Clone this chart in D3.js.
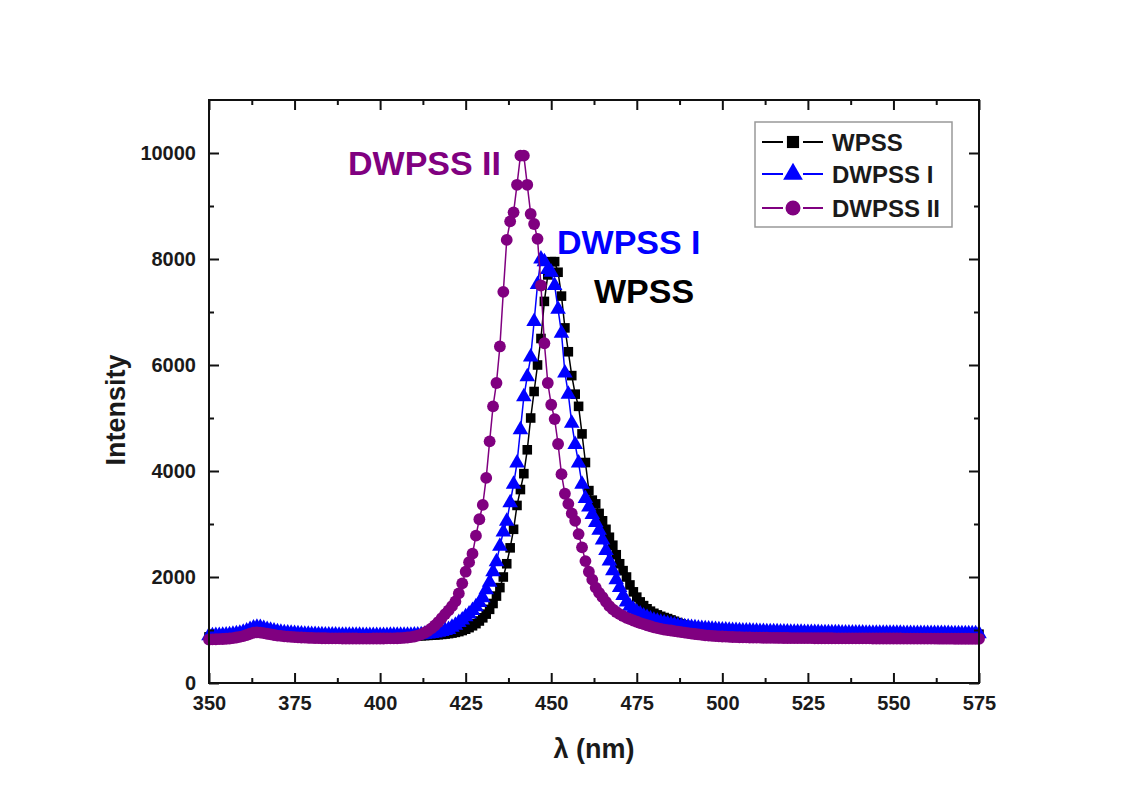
<!DOCTYPE html>
<html>
<head>
<meta charset="utf-8">
<script src="https://cdn.jsdelivr.net/npm/d3@7"></script>
<style>
  html, body { margin: 0; padding: 0; background: #fff; }
  svg { display: block; font-family: "Liberation Sans", Arial, sans-serif; }
  .tick text { font-weight: bold; font-size: 20px; fill: #1a1a1a; }
</style>
</head>
<body>
<svg id="chart" width="1133" height="812"></svg>
<script>
// Emission spectra, sampled every 1 nm from 350 to 575 nm
const wavelengths = d3.range(350, 576, 1);

const wpss = [
  870, 872, 874, 877, 880, 884, 889, 896, 905, 916,
  930, 950, 975, 1000, 1010, 1005, 992, 975, 962, 950,
  940, 932, 925, 920, 915, 911, 907, 904, 901, 899,
  897, 895, 893, 892, 890, 889, 888, 887, 886, 885,
  885, 884, 884, 883, 883, 883, 882, 882, 882, 882,
  882, 882, 882, 883, 883, 884, 884, 885, 886, 887,
  888, 890, 892, 895, 898, 902, 906, 911, 917, 924,
  932, 942, 955, 970, 990, 1015, 1045, 1080, 1120, 1170,
  1230, 1300, 1390, 1500, 1640, 1800, 2000, 2250, 2550, 2900,
  3350, 3650, 3950, 4400, 5000, 5500, 6000, 6500, 7200, 7700,
  7950, 7950, 7750, 7300, 6700, 6250, 5800, 5450, 5220, 4700,
  4160, 3630, 3450, 3380, 3200, 3060, 2900, 2750, 2600, 2420,
  2250, 2120, 2000, 1850, 1720, 1620, 1530, 1460, 1400, 1355,
  1315, 1285, 1258, 1235, 1215, 1190, 1165, 1140, 1115, 1095,
  1075, 1062, 1050, 1040, 1030, 1022, 1015, 1008, 1002, 997,
  994, 990, 987, 984, 981, 978, 975, 973, 971, 969,
  967, 965, 963, 961, 960, 958, 957, 955, 954, 953,
  952, 950, 949, 948, 947, 946, 945, 944, 943, 942,
  941, 940, 940, 939, 938, 937, 937, 936, 935, 935,
  934, 934, 933, 933, 932, 932, 931, 931, 930, 930,
  929, 929, 929, 928, 928, 927, 927, 927, 926, 926,
  926, 925, 925, 925, 924, 924, 924, 923, 923, 923,
  922, 922, 922, 922, 921, 921
];

const dwpss1 = [
  890, 892, 895, 898, 900, 905, 910, 918, 928, 940,
  958, 980, 1010, 1040, 1050, 1045, 1030, 1010, 995, 980,
  968, 958, 950, 944, 938, 933, 929, 925, 922, 919,
  916, 914, 912, 910, 908, 906, 905, 904, 903, 902,
  901, 900, 900, 899, 899, 898, 898, 898, 898, 898,
  898, 898, 898, 899, 899, 900, 900, 901, 902, 903,
  905, 908, 912, 918, 925, 934, 945, 958, 973, 990,
  1010, 1050, 1090, 1140, 1190, 1250, 1300, 1370, 1440, 1520,
  1610, 1760, 1900, 2100, 2290, 2580, 2850, 3050, 3400, 3750,
  4150, 4780, 5400, 5780, 6150, 6820, 7520, 8000, 7950, 7800,
  7750, 7500, 7050, 6600, 5850, 5450, 4900, 4500, 4150, 3750,
  3480, 3320, 3180, 3030, 2880, 2700, 2500, 2300, 2120, 1950,
  1800, 1650, 1530, 1450, 1390, 1340, 1300, 1265, 1235, 1210,
  1185, 1165, 1148, 1132, 1118, 1105, 1093, 1082, 1072, 1063,
  1055, 1048, 1041, 1035, 1029, 1024, 1019, 1014, 1010, 1006,
  1002, 998, 995, 992, 989, 986, 983, 981, 979, 977,
  975, 973, 971, 969, 968, 966, 965, 963, 962, 961,
  960, 958, 957, 956, 955, 954, 953, 952, 951, 950,
  949, 948, 948, 947, 946, 945, 945, 944, 943, 943,
  942, 942, 941, 941, 940, 940, 939, 939, 938, 938,
  937, 937, 937, 936, 936, 935, 935, 935, 934, 934,
  934, 933, 933, 933, 932, 932, 932, 931, 931, 931,
  930, 930, 930, 930, 929, 929
];

const dwpss2 = [
  820, 822, 825, 828, 830, 835, 840, 848, 858, 870,
  885, 905, 930, 950, 955, 950, 940, 930, 918, 905,
  895, 888, 880, 875, 870, 866, 862, 858, 855, 852,
  850, 848, 846, 845, 844, 843, 842, 842, 841, 840,
  840, 840, 839, 839, 838, 838, 838, 838, 839, 839,
  840, 840, 841, 842, 843, 845, 848, 852, 858, 866,
  878, 895, 918, 948, 985, 1030, 1085, 1150, 1225, 1300,
  1370, 1450, 1540, 1690, 1880, 2100, 2280, 2440, 2780, 3090,
  3360, 3870, 4560, 5220, 5660, 6350, 7380, 8360, 8710, 8880,
  9400, 9950, 9950, 9400, 8850, 8660, 8380, 7500, 6410, 5660,
  5250, 4980, 4510, 3940, 3570, 3380, 3200, 3060, 2810, 2560,
  2300, 2100, 1950, 1800, 1700, 1620, 1530, 1450, 1390, 1340,
  1300, 1265, 1230, 1205, 1180, 1155, 1130, 1110, 1090, 1070,
  1050, 1035, 1020, 1008, 998, 990, 980, 970, 960, 950,
  940, 932, 924, 916, 908, 900, 895, 890, 885, 880,
  877, 874, 871, 868, 866, 864, 862, 860, 858, 857,
  856, 855, 854, 853, 852, 851, 850, 850, 849, 849,
  848, 848, 847, 847, 846, 846, 846, 845, 845, 845,
  844, 844, 844, 843, 843, 843, 842, 842, 842, 842,
  841, 841, 841, 841, 840, 840, 840, 840, 840, 839,
  839, 839, 839, 838, 838, 838, 838, 838, 837, 837,
  837, 837, 837, 836, 836, 836, 836, 836, 835, 835,
  835, 835, 835, 834, 834, 834
];

const seriesNames = ["WPSS", "DWPSS I", "DWPSS II"];
const seriesColors = ["#000000", "#0000ff", "#800080"];
const seriesSymbols = [d3.symbolSquare, d3.symbolTriangle, d3.symbolCircle];
const seriesSizes = [92, 105, 110];

const xTicks = [350, 375, 400, 425, 450, 475, 500, 525, 550, 575];
const yTicks = [0, 2000, 4000, 6000, 8000, 10000];
const xMinorTicks = [362.5, 387.5, 412.5, 437.5, 462.5, 487.5, 512.5, 537.5, 562.5];
const yMinorTicks = [1000, 3000, 5000, 7000, 9000];

// Peak annotations
const peakLabels = [
  { text: "DWPSS II", color: "#800080", x: 348, y: 175 },
  { text: "DWPSS I", color: "#0000ff", x: 557, y: 254 },
  { text: "WPSS", color: "#000000", x: 594, y: 303 }
];

const svg = d3.select("#chart");
const plotLeft = 209, plotRight = 979, plotTop = 100, plotBottom = 683;

const x = d3.scaleLinear().domain([350, 575]).range([plotLeft, plotRight]);
const y = d3.scaleLinear().domain([0, 11000]).range([plotBottom, plotTop]);

svg.append("rect").attr("width", 1133).attr("height", 812).attr("fill", "#fff");

// Series: connecting line then markers, drawn WPSS first so DWPSS II ends on top
const seriesData = [wpss, dwpss1, dwpss2];
const line = d3.line().x(d => x(d[0])).y(d => y(d[1]));

seriesData.forEach((vals, i) => {
  const pts = wavelengths.map((w, j) => [w, vals[j]]);
  const g = svg.append("g");
  g.append("path")
    .attr("d", line(pts))
    .attr("fill", "none")
    .attr("stroke", seriesColors[i])
    .attr("stroke-width", 1.5);
  g.selectAll("path.m")
    .data(pts)
    .join("path")
    .attr("class", "m")
    .attr("transform", d => `translate(${x(d[0])},${y(d[1])})`)
    .attr("d", d3.symbol().type(seriesSymbols[i]).size(seriesSizes[i]))
    .attr("fill", seriesColors[i]);
});

// Axes with inward ticks on all four sides
const axisStroke = g => {
  g.select(".domain").remove();
  g.selectAll(".tick line").attr("stroke", "#111").attr("stroke-width", 2);
};

svg.append("g").attr("transform", `translate(0,${plotBottom})`)
  .call(d3.axisBottom(x).tickValues(xTicks).tickSize(-10).tickPadding(13).tickFormat(d3.format("d")))
  .call(axisStroke);
svg.append("g").attr("transform", `translate(0,${plotBottom})`)
  .call(d3.axisBottom(x).tickValues(xMinorTicks).tickSize(-5).tickFormat(""))
  .call(axisStroke);
svg.append("g").attr("transform", `translate(0,${plotTop})`)
  .call(d3.axisTop(x).tickValues(xTicks).tickSize(-10).tickFormat(""))
  .call(axisStroke);
svg.append("g").attr("transform", `translate(0,${plotTop})`)
  .call(d3.axisTop(x).tickValues(xMinorTicks).tickSize(-5).tickFormat(""))
  .call(axisStroke);

svg.append("g").attr("transform", `translate(${plotLeft},0)`)
  .call(d3.axisLeft(y).tickValues(yTicks).tickSize(-10).tickPadding(13).tickFormat(d3.format("d")))
  .call(axisStroke);
svg.append("g").attr("transform", `translate(${plotLeft},0)`)
  .call(d3.axisLeft(y).tickValues(yMinorTicks).tickSize(-5).tickFormat(""))
  .call(axisStroke);
svg.append("g").attr("transform", `translate(${plotRight},0)`)
  .call(d3.axisRight(y).tickValues(yTicks).tickSize(-10).tickFormat(""))
  .call(axisStroke);
svg.append("g").attr("transform", `translate(${plotRight},0)`)
  .call(d3.axisRight(y).tickValues(yMinorTicks).tickSize(-5).tickFormat(""))
  .call(axisStroke);

svg.append("rect")
  .attr("x", plotLeft).attr("y", plotTop)
  .attr("width", plotRight - plotLeft).attr("height", plotBottom - plotTop)
  .attr("fill", "none").attr("stroke", "#111").attr("stroke-width", 2);

// Axis titles
svg.append("text")
  .attr("x", 594).attr("y", 758)
  .attr("text-anchor", "middle")
  .attr("font-size", 27).attr("font-weight", "bold").attr("fill", "#1a1a1a")
  .text("λ (nm)");
svg.append("text")
  .attr("transform", "translate(125,410) rotate(-90)")
  .attr("text-anchor", "middle")
  .attr("font-size", 27).attr("font-weight", "bold").attr("fill", "#1a1a1a")
  .text("Intensity");

// Peak labels
svg.selectAll("text.peak")
  .data(peakLabels)
  .join("text")
  .attr("class", "peak")
  .attr("x", d => d.x).attr("y", d => d.y)
  .attr("font-size", 34).attr("font-weight", "bold")
  .attr("fill", d => d.color)
  .text(d => d.text);

// Legend
const legend = svg.append("g").attr("transform", "translate(755,122)");
legend.append("rect")
  .attr("width", 197).attr("height", 105)
  .attr("fill", "#fff").attr("stroke", "#999").attr("stroke-width", 1.5);
const rowsY = [20, 52, 86];
seriesNames.forEach((name, i) => {
  const r = legend.append("g").attr("transform", `translate(0,${rowsY[i]})`);
  [[7, 28], [48, 68]].forEach(([a, b]) => {
    r.append("line").attr("x1", a).attr("x2", b).attr("y1", 0).attr("y2", 0)
      .attr("stroke", seriesColors[i]).attr("stroke-width", 2);
  });
  r.append("path")
    .attr("transform", "translate(38,0)")
    .attr("d", d3.symbol().type(seriesSymbols[i]).size(seriesSizes[i] * 1.6))
    .attr("fill", seriesColors[i]);
  r.append("text")
    .attr("x", 77).attr("y", 8.5)
    .attr("font-size", 24).attr("font-weight", "bold").attr("fill", "#1a1a1a")
    .text(name);
});
</script>
</body>
</html>
